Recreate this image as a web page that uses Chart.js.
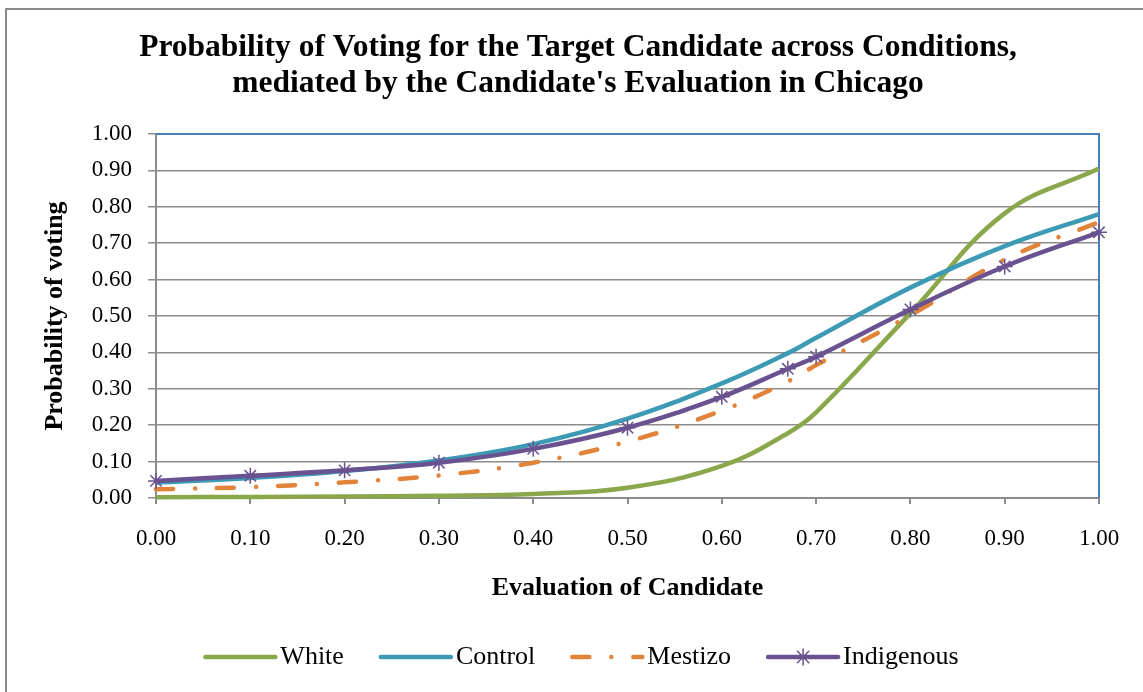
<!DOCTYPE html>
<html>
<head>
<meta charset="utf-8">
<title>Probability of Voting - Chicago</title>
<script src="https://cdn.jsdelivr.net/npm/chart.js@4.4.0/dist/chart.umd.min.js"></script>
<style>
  html, body { margin: 0; padding: 0; background: #fff; }
  #wrap { width: 1143px; height: 692px; }
</style>
</head>
<body>
<div id="wrap"><canvas id="voteChart" width="1143" height="692"></canvas></div>
<script>
// evaluation of candidate (x) and predicted probability of voting per condition
var evalValues = [0, 0.1, 0.2, 0.3, 0.4, 0.5, 0.6, 0.67, 0.7, 0.8, 0.9, 1.0];
var whiteProb = [0.002, 0.003, 0.004, 0.006, 0.011, 0.028, 0.088, 0.178, 0.235, 0.508, 0.782, 0.905];
var controlProb = [0.042, 0.055, 0.074, 0.103, 0.148, 0.218, 0.315, 0.398, 0.440, 0.578, 0.692, 0.780];
var mestizoProb = [0.024, 0.030, 0.043, 0.062, 0.097, 0.155, 0.240, 0.320, 0.365, 0.502, 0.655, 0.758];
var indigenousProb = [0.047, 0.061, 0.076, 0.097, 0.135, 0.193, 0.278, 0.355, 0.388, 0.518, 0.636, 0.730];

var seriesNames = ["White", "Control", "Mestizo", "Indigenous"];
var titleLines = [
  "Probability of Voting for the Target Candidate across Conditions,",
  "mediated by the Candidate's Evaluation in Chicago"
];
var xTitle = "Evaluation of Candidate";
var yTitle = "Probability of voting";

var serif = "'Liberation Serif', 'Times New Roman', serif";
var gridGray = "#8c8c8c";

function toPoints(ys) {
  return evalValues.map(function(x, i) { return {x: x, y: ys[i]}; });
}

// white background + the outer chart frame (left and top edges)
var framePlugin = {
  id: "frame",
  beforeDraw: function(chart) {
    var ctx = chart.ctx;
    ctx.save();
    ctx.fillStyle = "#fff";
    ctx.fillRect(0, 0, chart.width, chart.height);
    ctx.strokeStyle = "#8a8a8a";
    ctx.lineWidth = 2;
    ctx.beginPath();
    ctx.moveTo(6, chart.height);
    ctx.lineTo(6, 9);
    ctx.lineTo(chart.width, 9);
    ctx.stroke();
    ctx.restore();
  }
};

// blue plot-area border on top and right
var plotBorderPlugin = {
  id: "plotBorder",
  beforeDatasetsDraw: function(chart) {
    var a = chart.chartArea, ctx = chart.ctx;
    ctx.save();
    ctx.strokeStyle = "#4a7ebb";
    ctx.lineWidth = 2;
    ctx.beginPath();
    ctx.moveTo(a.left, a.top);
    ctx.lineTo(a.right, a.top);
    ctx.lineTo(a.right, a.bottom);
    ctx.stroke();
    ctx.restore();
  }
};

// two-line title
var titlePlugin = {
  id: "titleText",
  afterDraw: function(chart) {
    var ctx = chart.ctx;
    ctx.save();
    ctx.fillStyle = "#000";
    ctx.font = "bold 31.5px " + serif;
    ctx.textAlign = "center";
    ctx.textBaseline = "middle";
    ctx.fillText(titleLines[0], 578, 48);
    ctx.fillText(titleLines[1], 578, 84);
    ctx.restore();
  }
};

// legend with line samples under the axis title
var legendPlugin = {
  id: "lineLegend",
  afterDraw: function(chart) {
    var ctx = chart.ctx;
    var sample = 70, textGap = 5, itemGap = 37, y = 657;
    ctx.save();
    ctx.font = "26px " + serif;
    var widths = chart.data.datasets.map(function(ds) {
      return sample + textGap + ctx.measureText(ds.label).width;
    });
    var total = widths.reduce(function(s, w) { return s + w; }, 0) + itemGap * (widths.length - 1);
    var x = 582 - total / 2;
    chart.data.datasets.forEach(function(ds, i) {
      ctx.strokeStyle = ds.borderColor;
      ctx.lineWidth = ds.borderWidth;
      ctx.lineCap = "round";
      ctx.setLineDash(ds.borderDash || []);
      ctx.beginPath();
      ctx.moveTo(x, y);
      ctx.lineTo(x + sample, y);
      ctx.stroke();
      ctx.setLineDash([]);
      if (ds.pointRadius > 0) {
        ctx.strokeStyle = ds.pointBorderColor;
        ctx.lineWidth = ds.pointBorderWidth;
        Chart.helpers.drawPoint(ctx, {pointStyle: ds.pointStyle, radius: ds.pointRadius, borderWidth: ds.pointBorderWidth}, x + sample / 2, y);
      }
      ctx.fillStyle = "#000";
      ctx.textAlign = "left";
      ctx.textBaseline = "middle";
      ctx.fillText(ds.label, x + sample + textGap, y);
      x += widths[i] + itemGap;
    });
    ctx.restore();
  }
};

new Chart("voteChart", {
  type: "line",
  data: {
    datasets: [{
      label: seriesNames[0],
      data: toPoints(whiteProb),
      borderColor: "#8aa84b",
      borderWidth: 4.5,
      pointRadius: 0,
      order: 3
    }, {
      label: seriesNames[1],
      data: toPoints(controlProb),
      borderColor: "#3c9ab5",
      borderWidth: 4.5,
      pointRadius: 0,
      order: 2
    }, {
      label: seriesNames[2],
      data: toPoints(mestizoProb),
      borderColor: "#e2833a",
      borderWidth: 4.5,
      borderDash: [17, 22, 0.01, 22],
      borderCapStyle: "round",
      pointRadius: 0,
      order: 1
    }, {
      label: seriesNames[3],
      data: toPoints(indigenousProb),
      borderColor: "#6a5190",
      borderWidth: 4.5,
      pointStyle: "star",
      pointRadius: 8,
      pointBorderColor: "#6a5190",
      pointBorderWidth: 1.5,
      order: 0
    }]
  },
  options: {
    responsive: false,
    animation: false,
    clip: false,
    tension: 0.4,
    layout: {padding: {left: 0, right: 44, top: 134, bottom: 72}},
    plugins: {
      legend: {display: false},
      title: {display: false},
      tooltip: {enabled: false}
    },
    scales: {
      x: {
        type: "linear",
        min: 0,
        max: 1,
        ticks: {
          stepSize: 0.1,
          padding: 21,
          color: "#000",
          font: {family: serif, size: 23},
          callback: function(v) { return v.toFixed(2); }
        },
        grid: {drawOnChartArea: false, drawTicks: true, tickLength: 6, color: gridGray, lineWidth: 2},
        border: {color: gridGray, width: 2},
        title: {display: true, text: xTitle, color: "#000", font: {family: serif, size: 26, weight: "bold"}, padding: {top: 0, bottom: 16.4}},
        afterFit: function(scale) { scale.height = 122; }
      },
      y: {
        min: 0,
        max: 1,
        ticks: {
          stepSize: 0.1,
          padding: 16,
          color: "#000",
          font: {family: serif, size: 23},
          callback: function(v) { return v.toFixed(2); }
        },
        grid: {color: gridGray, lineWidth: 1.5, tickLength: 8},
        border: {color: gridGray, width: 2},
        title: {display: true, text: yTitle, color: "#000", font: {family: serif, size: 26, weight: "bold"}, padding: {top: 39.4, bottom: 0}},
        afterFit: function(scale) { scale.width = 156; }
      }
    }
  },
  plugins: [framePlugin, plotBorderPlugin, titlePlugin, legendPlugin]
});
</script>
</body>
</html>
